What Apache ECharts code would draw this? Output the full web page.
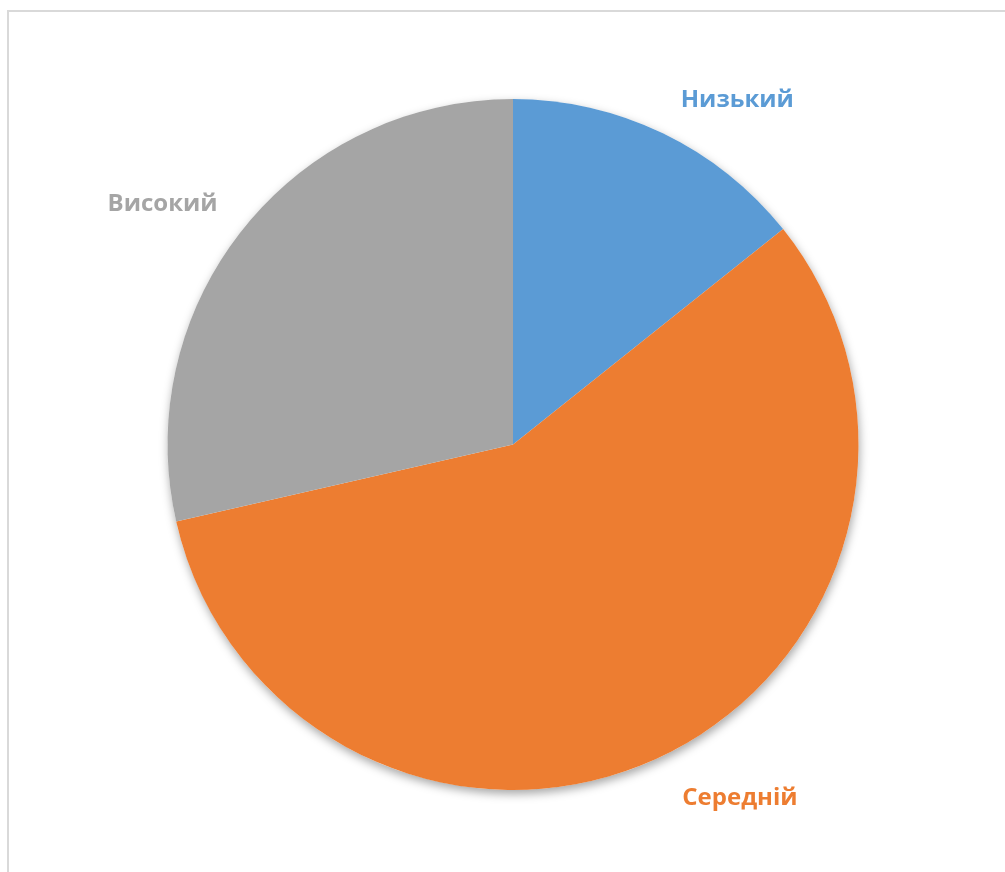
<!DOCTYPE html>
<html>
<head>
<meta charset="utf-8">
<script src="https://cdn.jsdelivr.net/npm/echarts@6/dist/echarts.min.js"></script>
<style>
  html, body { margin: 0; padding: 0; background: #ffffff; }
  #frame {
    position: absolute; left: 7px; top: 10px; width: 1100px; height: 1000px;
    border-left: 2px solid #d9d9d9; border-top: 2px solid #d9d9d9;
    box-sizing: border-box;
  }
  #chart { position: absolute; left: 0; top: 0; width: 1005px; height: 872px; }
</style>
</head>
<body>
<div id="frame"></div>
<div id="chart"></div>
<script>
// Distribution by level
const categories = ['Низький', 'Середній', 'Високий'];
const values = [5, 20, 10];
const colors = ['#5B9BD5', '#ED7D31', '#A5A5A5'];

// per-slice label offsets from the rim (pixels) and gap to the anchor
const labelGap = [36.5, 47, 40];
const labelShift = [2, -1, -6];

const total = values.reduce((a, b) => a + b, 0);
const center = [513, 444.5];
const radius = 345.5;

const chart = echarts.init(document.getElementById('chart'), null, { renderer: 'canvas' });

chart.setOption({
  animation: false,
  backgroundColor: 'transparent',
  series: [
    {
      // soft drop shadow underneath the whole disc
      type: 'pie',
      silent: true,
      center: center,
      radius: radius,
      z: 1,
      label: { show: false },
      labelLine: { show: false },
      itemStyle: {
        color: '#ffffff',
        shadowBlur: 10,
        shadowOffsetX: 1,
        shadowOffsetY: 4,
        shadowColor: 'rgba(0,0,0,0.35)'
      },
      data: [{ value: total, name: '' }]
    },
    {
      type: 'pie',
      center: center,
      radius: radius,
      z: 2,
      startAngle: 90,
      clockwise: true,
      avoidLabelOverlap: false,
      label: {
        show: true,
        position: 'outside',
        formatter: '{b}',
        fontFamily: '"Open Sans", sans-serif',
        fontWeight: 'bold',
        fontSize: 24,
        distanceToLabelLine: 3
      },
      labelLine: { show: false, length: 40, length2: 0 },
      itemStyle: { borderWidth: 0 },
      data: categories.map((name, i) => ({
        name: name,
        value: values[i],
        itemStyle: { color: colors[i] },
        label: { color: colors[i], distanceToLabelLine: labelShift[i] },
        labelLine: { show: false, length: labelGap[i], length2: 0 }
      }))
    }
  ]
});
</script>
</body>
</html>
